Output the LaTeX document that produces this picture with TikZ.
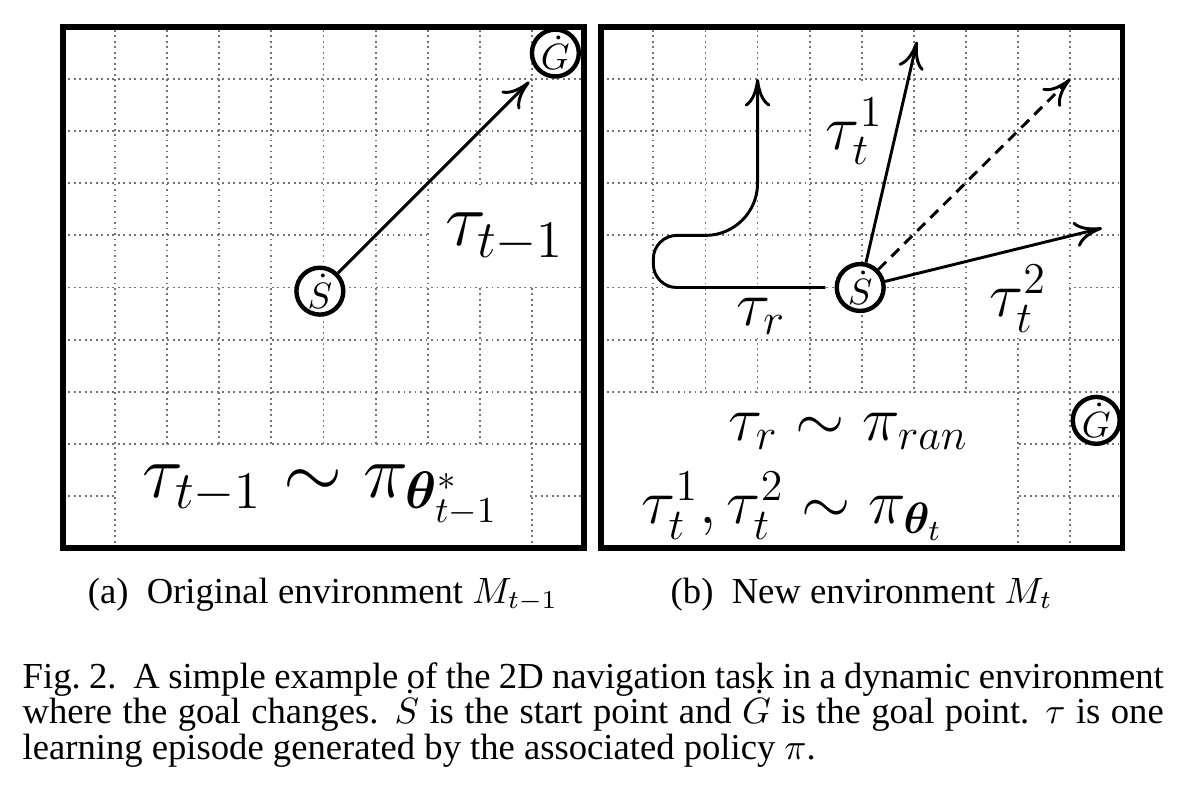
\documentclass[tikz,border=0pt]{standalone}
\usepackage{amsmath,amssymb,bm}
\usepackage{fontspec}
\setmainfont{Liberation Serif}
\usetikzlibrary{positioning,arrows.meta,calc}

\tikzset{
  gridline/.style={densely dotted,black!55,line width=0.5pt},
  envframe/.style={line width=1.5pt},
  waypt/.style={circle,draw,fill=white,line width=1.2pt,minimum size=0.45cm,inner sep=0pt,font=\fontsize{10}{12}\selectfont},
  traj/.style={line width=0.8pt,-{To[length=7.5pt,width=7pt]}},
  biglbl/.style={font=\fontsize{20}{22}\selectfont,inner sep=1pt},
  midlbl/.style={font=\fontsize{16.5}{19}\selectfont,inner sep=1pt},
  subcap/.style={font=\fontsize{10}{12}\selectfont,inner sep=0pt},
  capline/.style={font=\fontsize{10}{12}\selectfont,inner sep=0pt,anchor=base west},
}
\newcommand{\fullline}[1]{\makebox[10.95cm][s]{#1}}

\begin{document}
\begin{tikzpicture}[x=0.5cm,y=0.5cm]
  \useasboundingbox (-1.209,-4.760) rectangle (21.63,10.518);

  % (a) original environment
  \draw[gridline,step=0.5cm] (0,0) grid (10,10);
  \fill[white] (1.03,0.03) rectangle (8.97,1.97);
  \fill[white] (7.03,5.03) rectangle (9.97,6.97);
  \node[waypt] (Sa) at (4.93,4.93) {$\dot{S}$};
  \node[waypt] (Ga) at (9.45,9.5) {$\dot{G}$};
  \coordinate (tipa) at (8.95,8.95);
  \draw[traj] (Sa) -- (tipa);
  \node[biglbl] (taua) at (8.48,5.96) {$\tau_{t-1}$};
  \node[biglbl] (pola) at (4.95,1.02) {$\tau_{t-1}\sim\pi_{\boldsymbol{\theta}^*_{t-1}}$};
  \draw[envframe] (0,0) rectangle (10,10);
  \node[subcap,anchor=base] (capa) at (4.99,-1.06) {(a)~~Original environment $M_{t-1}$};

  % (b) new environment
  \begin{scope}[shift={(10.33,0)}]
    \draw[gridline,step=0.5cm] (0,0) grid (10,10);
    \fill[white] (0.03,0.03) rectangle (7.97,2.97);
    \fill[white] (4.03,7.03) rectangle (5.97,8.97);
    \fill[white] (2.03,4.03) rectangle (3.97,4.97);
    \fill[white] (7.03,4.03) rectangle (8.97,5.97);
    \node[waypt] (Sb) at (4.97,5) {$\dot{S}$};
    \node[waypt] (Gb) at (9.5,2.45) {$\dot{G}$};
    \coordinate (rtip) at (3,9);
    \coordinate (t1tip) at (6.06,9.72);
    \coordinate (dtip) at (9,9);
    \coordinate (t2tip) at (9.61,6.14);
    \draw[traj,shorten <=2.5pt] (Sb.west) -- (1.45,5)
      arc[start angle=270,end angle=180,radius=0.45] -- (1,5.55)
      arc[start angle=180,end angle=90,radius=0.45] -- (2,6)
      arc[start angle=-90,end angle=0,radius=1] -- (rtip);
    \draw[traj] (Sb) -- (t1tip);
    \draw[traj,dash pattern=on 3pt off 2pt] (Sb) -- (dtip);
    \draw[traj] (Sb) -- (t2tip);
    \node[midlbl] (tau1) at (4.86,8.0) {$\tau_t^1$};
    \node[midlbl] (taur) at (3.07,4.45) {$\tau_r$};
    \node[midlbl] (tau2) at (8.0,4.78) {$\tau_t^2$};
    \node[midlbl] (polr) at (4.75,2.24) {$\tau_r\sim\pi_{ran}$};
    \node[midlbl] (polb) at (3.67,0.8) {$\tau_t^1,\tau_t^2\sim\pi_{\boldsymbol{\theta}_t}$};
    \draw[envframe] (0,0) rectangle (10,10);
    \node[subcap,anchor=base] (capb) at (5.0,-1.06) {(b)~~New environment $M_t$};
  \end{scope}

  % figure caption
  \node[capline] (figcapa) at (-0.787,-2.687)
    {\fullline{Fig.~2.\ \ A simple example of the 2D navigation task in a dynamic environment}};
  \node[capline] (figcapb) at (-0.787,-3.369)
    {\fullline{where the goal changes. $\dot{S}$ is the start point and $\dot{G}$ is the goal point. $\tau$ is one}};
  \node[capline] (figcapc) at (-0.787,-4.050)
    {learning episode generated by the associated policy $\pi$.};
\end{tikzpicture}
\end{document}
